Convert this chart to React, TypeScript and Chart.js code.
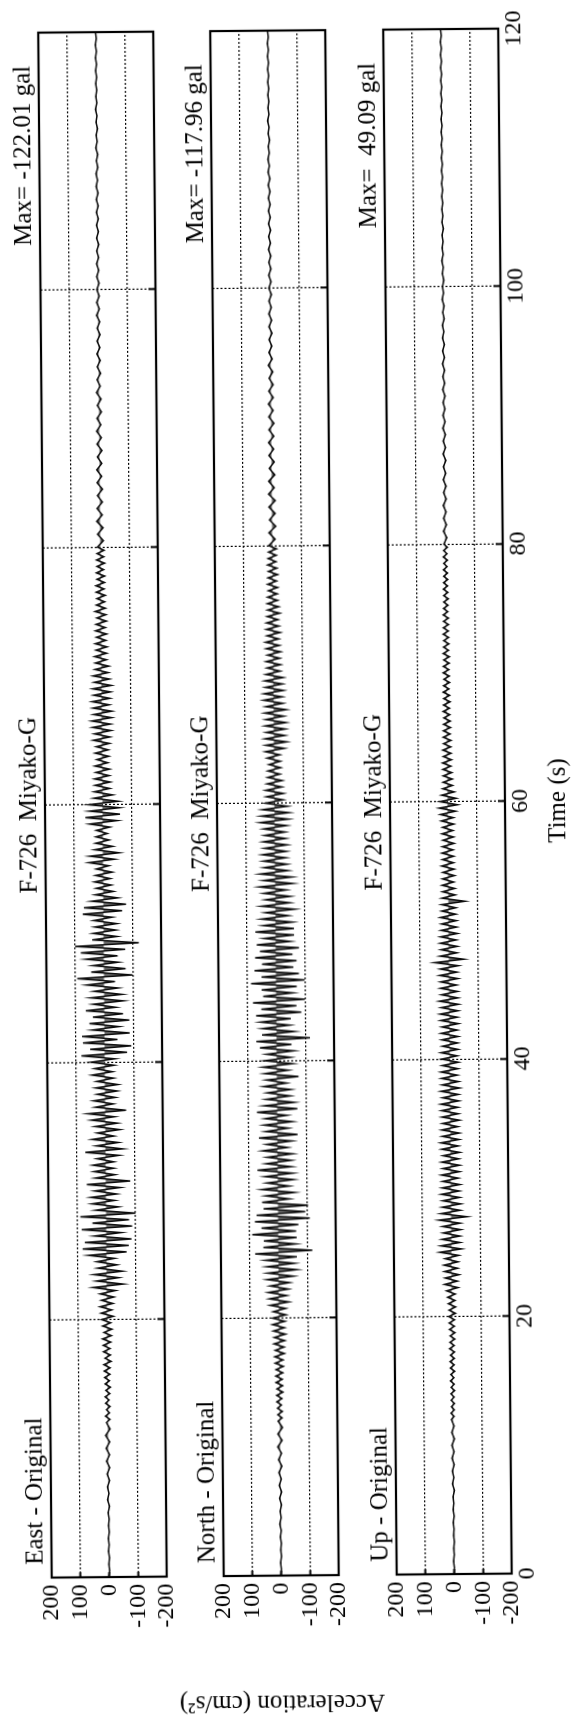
import React, { useEffect, useRef } from "react";
import { Chart, registerables } from "chart.js";

Chart.register(...registerables);

// ---- sampling clock of the traces (seconds) ----
const SEG_A_START = 0;
const SEG_A_STEP = 0.5;
const SEG_B_START = 12;
const SEG_B_STEP = 0.25;
const SEG_C_START = 80;
const SEG_C_STEP = 0.5;

// ---- labels ----
const componentLabels = ["East - Original", "North - Original", "Up - Original"];
const stationLabel = "F-726  Miyako-G";
const maxLabels = ["Max= -122.01 gal", "Max= -117.96 gal", "Max=  49.09 gal"];
const timeTicks = [0, 20, 40, 60, 80, 100, 120];
const accTicks = [-200, -100, 0, 100, 200];
const timeTitle = "Time (s)";
const accTitle = "Acceleration (cm/s\u00B2)";

// ---- East component (gal) ----
const eastA = [2, -2, 1, -2, 2, -1, 2, -2, 1, -2, 2, -3, 3, -2, 3, -4, 4, -5, 6, -5, 7, -6, 8, -7];
const eastB = [
  5, -7, 8, -6, 4, -8, 7, -5,
  9, -8, 6, -10, 8, -7, 10, -9,
  11, -9, 12, -13, 8, -11, 13, -10,
  14, -12, 16, -15, 11, -17, 15, -13,
  18, -22, 20, -17, 24, -21, 19, -25,
  23, -30, 47, -58, 35, -42, 44, -55,
  30, -36, 33, -28, 62, -70, 82, -78,
  75, -88, 40, -52, 85, -90, 48, -80,
  89, -102, 35, -43, 48, -30, 52, -37,
  38, -50, 66, -85, 35, -32, 40, -28,
  44, -28, 30, -47, 70, -60, 32, -45,
  46, -30, 28, -50, 35, -42, 48, -32,
  60, -73, 34, -28, 40, -36, 27, -42,
  32, -45, 28, -30, 44, -26, 35, -32,
  48, -35, 81, -78, 50, -93, 75, -45,
  78, -88, 42, -50, 52, -87, 40, -65,
  64, -40, 38, -66, 46, -62, 35, -48,
  60, -38, 93, -99, 44, -75, 38, -50,
  62, -48, 80, -75, 99, -122, 40, -46,
  36, -42, 30, -46, 34, -30, 72, -65,
  68, -79, 40, -50, 28, -35, 24, -28,
  30, -25, 26, -32, 23, -20, 49, -40,
  45, -56, 28, -34, 25, -22, 24, -16,
  22, -25, 45, -50, 60, -61, 45, -58,
  48, -55, 30, -35, 28, -26, 25, -27,
  27, -24, 22, -26, 25, -20, 18, -23,
  24, -22, 20, -26, 30, -28, 26, -32,
  32, -30, 35, -34, 28, -35, 30, -26,
  33, -29, 27, -31, 30, -34, 25, -28,
  29, -24, 22, -26, 20, -18, 23, -19,
  18, -21, 20, -17, 16, -20, 19, -15,
  17, -19, 14, -18, 20, -16, 15, -14,
  13, -16, 15, -12, 16, -14, 12, -15,
  14, -11, 12, -15, 13, -12, 11, -13,
];
const eastC = [
  10, -11, 9, -10, 11, -8, 10, -9, 8, -10,
  9, -7, 10, -8, 7, -9, 8, -7, 9, -6,
  7, -8, 6, -7, 8, -5, 6, -7, 5, -6,
  6, -5, 5, -6, 4, -5, 6, -4, 5, -4,
  4, -4, 4, -3, 4, -3, 3, -4, 3, -3,
  3, -3, 3, -3, 3, -3, 3, -2, 3, -3,
  2, -3, 3, -2, 2, -3, 2, -2, 3, -2,
  2, -2, 2, -2, 2, -2, 2, -2, 2, -2,
  1,
];

// ---- North component (gal) ----
const northA = [2, -1, 2, -2, 1, -2, 2, -2, 3, -2, 2, -3, 3, -4, 4, -3, 5, -6, 6, -5, 8, -7, 7, -9];
const northB = [
  6, -8, 7, -9, 8, -6, 10, -8,
  10, -12, 9, -11, 12, -10, 13, -12,
  12, -14, 15, -13, 16, -18, 14, -17,
  18, -20, 17, -22, 20, -19, 23, -21,
  22, -25, 20, -24, 30, -35, 33, -28,
  36, -34, 30, -38, 40, -52, 38, -64,
  40, -55, 45, -64, 81, -118, 52, -60,
  50, -64, 90, -62, 58, -70, 81, -110,
  75, -95, 50, -104, 55, -40, 42, -58,
  56, -40, 38, -55, 44, -52, 70, -48,
  40, -48, 36, -52, 52, -35, 38, -50,
  64, -70, 40, -38, 46, -52, 42, -34,
  70, -70, 45, -60, 38, -46, 34, -48,
  46, -34, 36, -75, 42, -40, 48, -55,
  42, -48, 35, -60, 58, -52, 70, -116,
  50, -62, 48, -46, 55, -50, 70, -87,
  52, -70, 81, -99, 45, -58, 50, -72,
  87, -99, 50, -80, 75, -61, 48, -72,
  72, -58, 55, -81, 66, -50, 40, -64,
  70, -64, 42, -58, 49, -45, 35, -67,
  48, -50, 34, -52, 40, -38, 55, -61,
  40, -58, 52, -45, 38, -42, 40, -38,
  43, -40, 36, -43, 40, -38, 35, -36,
  38, -42, 50, -48, 46, -50, 42, -45,
  32, -30, 28, -32, 30, -26, 25, -28,
  23, -20, 22, -23, 18, -22, 24, -20,
  30, -36, 28, -44, 31, -38, 26, -40,
  30, -42, 28, -35, 31, -44, 27, -33,
  35, -30, 33, -35, 28, -32, 30, -34,
  26, -24, 22, -26, 25, -23, 20, -26,
  24, -22, 26, -20, 21, -25, 23, -21,
  22, -18, 20, -24, 18, -21, 19, -17,
  18, -16, 15, -18, 17, -14, 16, -18,
  14, -16, 17, -13, 15, -14, 13, -15,
];
const northC = [
  12, -10, 11, -13, 9, -11, 10, -12, 11, -9,
  10, -11, 8, -10, 9, -8, 10, -9, 8, -10,
  8, -7, 9, -8, 7, -8, 6, -7, 8, -6,
  6, -5, 5, -6, 5, -5, 5, -4, 4, -5,
  4, -4, 4, -4, 3, -4, 4, -3, 3, -4,
  3, -3, 3, -3, 3, -3, 3, -3, 3, -2,
  3, -2, 2, -3, 2, -2, 3, -2, 2, -2,
  2, -2, 2, -2, 2, -2, 2, -2, 2, -2,
  1,
];

// ---- Up component (gal) ----
const upA = [1, -1, 2, -1, 1, -2, 1, -1, 2, -2, 2, -1, 2, -3, 3, -2, 3, -3, 4, -3, 4, -5, 4, -4];
const upB = [
  5, -4, 6, -5, 4, -6, 5, -5,
  6, -7, 5, -6, 7, -5, 6, -8,
  7, -6, 8, -7, 6, -8, 9, -7,
  8, -9, 7, -10, 9, -8, 10, -9,
  11, -12, 10, -13, 12, -11, 14, -12,
  18, -22, 25, -20, 22, -26, 24, -21,
  26, -23, 22, -25, 40, -35, 36, -30,
  32, -30, 28, -33, 30, -31, 42, -55,
  35, -32, 30, -34, 28, -30, 33, -29,
  30, -32, 28, -26, 32, -30, 27, -31,
  31, -28, 26, -32, 30, -27, 33, -30,
  28, -31, 30, -26, 27, -32, 29, -28,
  30, -27, 32, -30, 26, -29, 31, -33,
  27, -30, 29, -26, 31, -28, 26, -30,
  28, -26, 30, -29, 25, -28, 27, -30,
  29, -27, 26, -31, 30, -28, 32, -30,
  28, -32, 34, -30, 27, -29, 30, -26,
  29, -31, 32, -28, 30, -33, 49, -52,
  30, -28, 27, -30, 29, -26, 28, -31,
  26, -28, 24, -27, 28, -25, 23, -26,
  23, -58, 22, -24, 20, -23, 21, -19,
  20, -22, 18, -21, 22, -19, 19, -20,
  21, -18, 19, -22, 17, -20, 20, -18,
  18, -21, 22, -20, 25, -28, 29, -35,
  26, -30, 20, -24, 16, -18, 15, -17,
  14, -16, 15, -13, 16, -15, 13, -14,
  15, -13, 12, -14, 13, -11, 12, -13,
  11, -12, 10, -11, 12, -10, 11, -12,
  10, -11, 12, -9, 10, -11, 9, -10,
  11, -9, 10, -10, 9, -11, 10, -8,
  9, -10, 8, -9, 10, -8, 9, -9,
  8, -9, 9, -7, 8, -8, 7, -9,
  7, -8, 8, -7, 7, -8, 6, -7,
  7, -6, 6, -7, 7, -6, 6, -7,
];
const upC = [
  5, -6, 6, -5, 5, -4, 6, -5, 4, -5,
  5, -4, 4, -5, 5, -4, 4, -4, 5, -3,
  4, -3, 3, -4, 4, -3, 3, -3, 4, -3,
  3, -3, 3, -2, 3, -3, 2, -3, 3, -2,
  2, -3, 2, -2, 3, -2, 2, -2, 2, -3,
  2, -2, 2, -2, 2, -2, 2, -2, 2, -2,
  2, -2, 2, -2, 2, -2, 2, -2, 2, -2,
  2, -2, 2, -2, 2, -2, 2, -2, 2, -2,
  1,
];

// ---- geometry (unrotated frame) ----
const FRAME_W = 1727;
const FRAME_H = 576;
const PLOT_LEFT = 152;
const PLOT_RIGHT = 1697;
const PANEL_TOP = [45, 217, 390];
const PANEL_H = 115;
const FONT = '"Liberation Serif", "Times New Roman", serif';

function toPoints(a: number[], b: number[], c: number[]) {
  const pts: { x: number; y: number }[] = [];
  a.forEach((v, i) => pts.push({ x: SEG_A_START + i * SEG_A_STEP, y: v }));
  b.forEach((v, i) => pts.push({ x: SEG_B_START + i * SEG_B_STEP, y: v }));
  c.forEach((v, i) => pts.push({ x: SEG_C_START + i * SEG_C_STEP, y: v }));
  return pts;
}

const series = [
  toPoints(eastA, eastB, eastC),
  toPoints(northA, northB, northC),
  toPoints(upA, upB, upC),
];

const panelDecor = {
  id: "panelDecor",
  afterDatasetsDraw(chart: any) {
    const { ctx, chartArea: a } = chart;
    ctx.save();
    ctx.strokeStyle = "#000";
    ctx.lineWidth = 2.2;
    ctx.strokeRect(a.left, a.top, a.right - a.left, a.bottom - a.top);
    ctx.restore();
  },
  afterDraw(chart: any, _args: any, opts: any) {
    const { ctx, chartArea: a } = chart;
    ctx.save();
    ctx.fillStyle = "#000";
    ctx.font = "25px " + FONT;
    ctx.textBaseline = "alphabetic";
    const y = a.top - 9;
    ctx.textAlign = "left";
    ctx.fillText(opts.left, a.left + 13, y);
    ctx.textAlign = "center";
    ctx.fillText(opts.center, (a.left + a.right) / 2, y);
    ctx.textAlign = "right";
    ctx.fillText(opts.right, a.right - 33, y);
    ctx.restore();
  },
};

function makeConfig(k: number): any {
  const isBottom = k === 2;
  const top = PANEL_TOP[k];
  const bottom = top + PANEL_H;
  return {
    type: "line",
    data: {
      datasets: [
        {
          data: series[k],
          borderColor: "#0a0a0a",
          backgroundColor: "#6a6a6a",
          borderWidth: 1.5,
          pointRadius: 0,
          tension: 0,
          fill: "origin",
          borderJoinStyle: "miter",
        },
      ],
    },
    options: {
      animation: false,
      responsive: false,
      events: [],
      layout: {
        padding: { left: 0, right: FRAME_W - PLOT_RIGHT, top, bottom: isBottom ? 0 : FRAME_H - bottom },
      },
      plugins: {
        legend: { display: false },
        tooltip: { enabled: false },
        title: { display: false },
        filler: { propagate: false },
        panelDecor: { left: componentLabels[k], center: stationLabel, right: maxLabels[k] },
      },
      scales: {
        x: {
          type: "linear",
          position: "bottom",
          min: timeTicks[0],
          max: timeTicks[timeTicks.length - 1],
          afterBuildTicks: (s: any) => {
            s.ticks = timeTicks.map((v) => ({ value: v }));
          },
          ticks: {
            display: isBottom,
            autoSkip: false,
            maxRotation: 0,
            padding: 8,
            color: "#000",
            font: { size: 24, family: FONT },
            callback: (v: any) => String(v),
          },
          grid: {
            color: (c: any) => (c.tick && c.tick.value > 0 && c.tick.value < 120 ? "#000" : "rgba(0,0,0,0)"),
            tickColor: (c: any) => (c.tick && c.tick.value > 0 && c.tick.value < 120 ? "#000" : "rgba(0,0,0,0)"),
            lineWidth: 1.2,
            tickWidth: 2,
            tickLength: -7,
            drawTicks: true,
          },
          border: { display: false, dash: [2, 2] },
          title: {
            display: isBottom,
            text: timeTitle,
            color: "#000",
            font: { size: 25, family: FONT },
            padding: { top: 0, bottom: 3 },
          },
          afterFit: (s: any) => {
            s.height = isBottom ? FRAME_H - bottom : 0;
          },
        },
        y: {
          type: "linear",
          position: "left",
          min: accTicks[0],
          max: accTicks[accTicks.length - 1],
          afterBuildTicks: (s: any) => {
            s.ticks = accTicks.map((v) => ({ value: v }));
          },
          ticks: {
            autoSkip: false,
            padding: 12,
            color: "#000",
            font: { size: 24, family: FONT },
            callback: (v: any) => String(v),
          },
          grid: {
            color: (c: any) => (c.tick && Math.abs(c.tick.value) === 100 ? "#000" : "rgba(0,0,0,0)"),
            tickColor: (c: any) => (c.tick && Math.abs(c.tick.value) <= 100 ? "#000" : "rgba(0,0,0,0)"),
            lineWidth: 1.2,
            tickWidth: 2,
            tickLength: -5,
            drawTicks: true,
          },
          border: { display: false, dash: [2, 2] },
          title: {
            display: k === 1,
            text: accTitle,
            color: "#000",
            font: { size: 25, family: FONT },
            padding: { top: 10, bottom: 0 },
          },
          afterFit: (s: any) => {
            s.width = PLOT_LEFT;
          },
        },
      },
    },
    plugins: [panelDecor],
  };
}

function Panel({ k }: { k: number }) {
  const ref = useRef<HTMLCanvasElement | null>(null);
  useEffect(() => {
    if (!ref.current) return;
    const chart = new Chart(ref.current, makeConfig(k));
    return () => chart.destroy();
  }, [k]);
  return (
    <canvas
      ref={ref}
      width={FRAME_W}
      height={FRAME_H}
      style={{ position: "absolute", left: 0, top: 0, width: FRAME_W, height: FRAME_H }}
    />
  );
}

export default function App() {
  Chart.defaults.font.family = FONT;
  Chart.defaults.color = "#000";
  return (
    <div
      style={{
        position: "absolute",
        left: 0,
        top: 0,
        width: 576,
        height: 1727,
        overflow: "hidden",
        background: "#fff",
      }}
    >
      <div
        style={{
          position: "absolute",
          left: (576 - FRAME_W) / 2,
          top: (1727 - FRAME_H) / 2,
          width: FRAME_W,
          height: FRAME_H,
          transform: "rotate(-90.5deg)",
          transformOrigin: "50% 50%",
        }}
      >
        <Panel k={0} />
        <Panel k={1} />
        <Panel k={2} />
      </div>
    </div>
  );
}
